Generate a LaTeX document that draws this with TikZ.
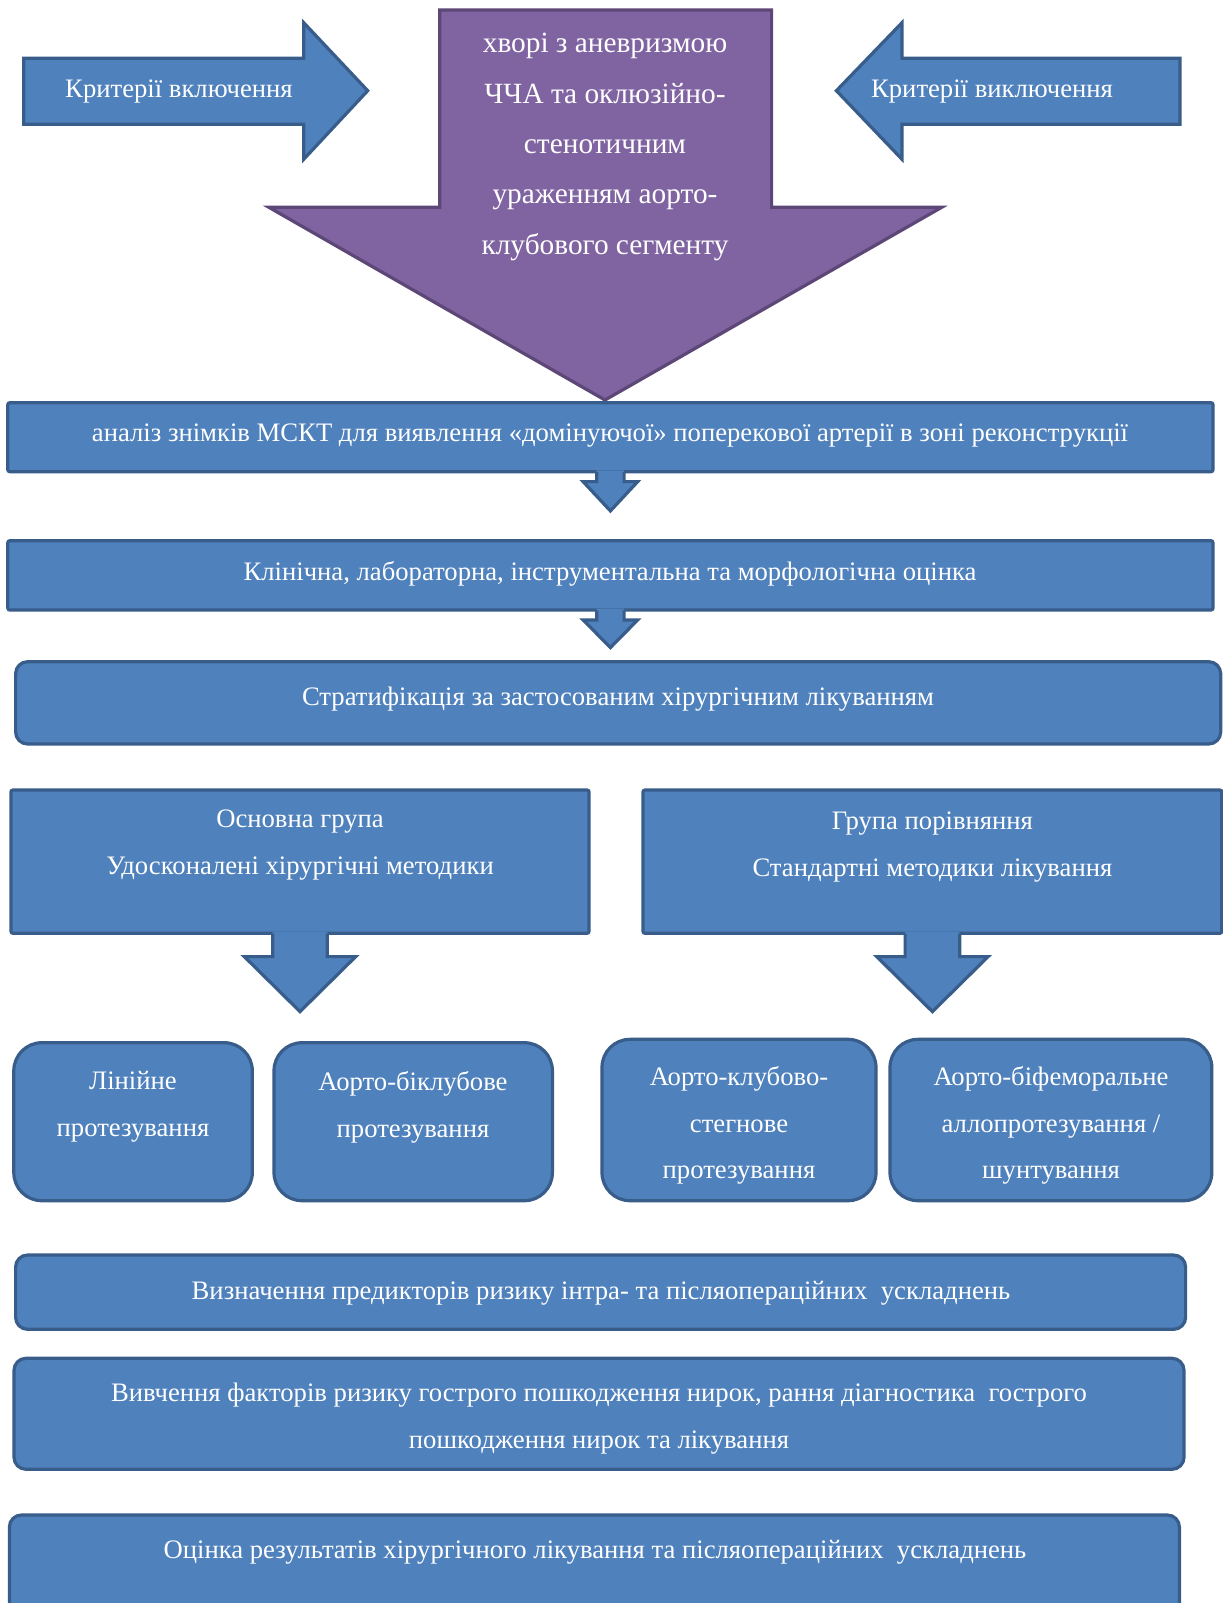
\documentclass[tikz,border=0pt]{standalone}
\usepackage{fontspec}
\setmainfont{Liberation Serif}
\usetikzlibrary{fit}
\definecolor{bfill}{HTML}{4F81BD}
\definecolor{bline}{HTML}{385D8A}
\definecolor{pfill}{HTML}{8064A2}
\definecolor{pline}{HTML}{5C4776}
\tikzset{
  sbox/.style={draw=bline, fill=bfill, line width=2.4pt, inner sep=0pt, rounded corners=1.5pt},
  rbox/.style={sbox, rounded corners=9pt},
  qbox/.style={sbox, rounded corners=21pt},
  lbl/.style={text=white, align=center, inner sep=0pt, font=\fontsize{20}{35}\selectfont},
  plbl/.style={lbl, font=\fontsize{22}{37.8}\selectfont},
  barrow/.style={draw=bline, fill=bfill, line width=2.4pt},
  parrow/.style={draw=pline, fill=pfill, line width=2.4pt},
}
\newcommand\dnarrow[5]{%
  \fill[bfill,shift={(#1)}] (-#2,-3) -- (-#2,#4) -- (-#3,#4) -- (0,#5) -- (#3,#4) -- (#2,#4) -- (#2,-3) -- cycle;
  \draw[bline,line width=2.4pt,shift={(#1)}] (-#2,-1.2) -- (-#2,#4) -- (-#3,#4) -- (0,#5) -- (#3,#4) -- (#2,#4) -- (#2,-1.2);}
\begin{document}
\begin{tikzpicture}[x=0.75pt,y=-0.75pt]
\clip (0,0) rectangle (1223,1603);
\useasboundingbox (0,0) rectangle (1223,1603);
\fill[white] (0,0) rectangle (1223,1603);

% top side arrows
\draw[barrow] (23.7,58.3) -- (303.7,58.3) -- (303.7,22.7) -- (367.7,90.7) -- (303.7,159.3) -- (303.7,124.3) -- (23.7,124.3) -- cycle;
\node[lbl] (incl) at (179,92) {Критерії включення};
\draw[barrow] (1180,58.3) -- (902,58.3) -- (902,22.7) -- (836.4,90.7) -- (902,159.3) -- (902,124.3) -- (1180,124.3) -- cycle;
\node[lbl] (excl) at (992,92) {Критерії виключення};

% purple arrow
\draw[parrow] (439.7,10) -- (771.6,10) -- (771.6,207.3) -- (941.7,207.3) -- (605,400) -- (268.9,207.3) -- (439.7,207.3) -- cycle;
\node[plbl] (ptext) at (605,147) {хворі з аневризмою\\ЧЧА та оклюзійно-\\стенотичним\\ураженням аорто-\\клубового сегменту};

% main boxes
\node[sbox, fit={(7.8,402.7) (1213,471.7)}] (r1) {};
\node[lbl] (t1) at (610,436) {аналіз знімків МСКТ для виявлення «домінуючої» поперекової артерії в зоні реконструкції};
\node[sbox, fit={(7.8,540.7) (1213,610)}] (r2) {};
\node[lbl] (t2) at (610,574) {Клінічна, лабораторна, інструментальна та морфологічна оцінка};
\dnarrow{r1.south}{13.7}{27.3}{8.3}{37.6}
\node[rbox, fit={(15.6,661.7) (1220.7,744)}] (r3) {};
\node[lbl] (t3) at (618,699) {Стратифікація за застосованим хірургічним лікуванням};
\dnarrow{r2.south}{13.7}{27.3}{8.3}{36}

% groups
\node[sbox, fit={(11,790) (589,933.3)}] (gA) {};
\node[lbl, anchor=north] (tA) at (300,810) {Основна група\\Удосконалені хірургічні методики};
\node[sbox, fit={(643,790) (1221.8,933.3)}] (gB) {};
\node[lbl, anchor=north] (tB) at (932.4,812) {Група порівняння\\Стандартні методики лікування};
\dnarrow{gA.south}{27.3}{55.7}{21.7}{76.7}
\dnarrow{gB.south}{27.3}{55.7}{21.7}{76.7}

% methods
\node[qbox, fit={(13.8,1042.7) (252.3,1200.7)}] (b1) {};
\node[lbl, anchor=north] (tb1) at (133,1071) {Лінійне\\протезування};
\node[qbox, fit={(274,1042.7) (552.4,1200.7)}] (b2) {};
\node[lbl, anchor=north] (tb2) at (413,1071) {Аорто-біклубове\\протезування};
\node[qbox, fit={(602,1039.3) (876,1200.7)}] (b3) {};
\node[lbl, anchor=north] (tb3) at (739,1066) {Аорто-клубово-\\стегнове\\протезування};
\node[qbox, fit={(890,1039.3) (1211.8,1200.7)}] (b4) {};
\node[lbl, anchor=north] (tb4) at (1051,1066) {Аорто-біфеморальне\\аллопротезування /\\шунтування};

% bottom boxes
\node[rbox, fit={(15.6,1255) (1185.6,1329.3)}] (r4) {};
\node[lbl] (t4) at (601,1293) {Визначення предикторів ризику інтра- та післяопераційних\ \ ускладнень};
\node[rbox, fit={(14,1358.3) (1184,1469.3)}] (r5) {};
\node[lbl, anchor=north] (t5) at (599,1383) {Вивчення факторів ризику гострого пошкодження нирок, рання діагностика\ \ гострого\\пошкодження нирок та лікування};
\node[rbox, fit={(9.4,1515) (1179.4,1630)}] (r6) {};
\node[lbl] (t6) at (595,1552) {Оцінка результатів хірургічного лікування та післяопераційних\ \ ускладнень};
\end{tikzpicture}
\end{document}
